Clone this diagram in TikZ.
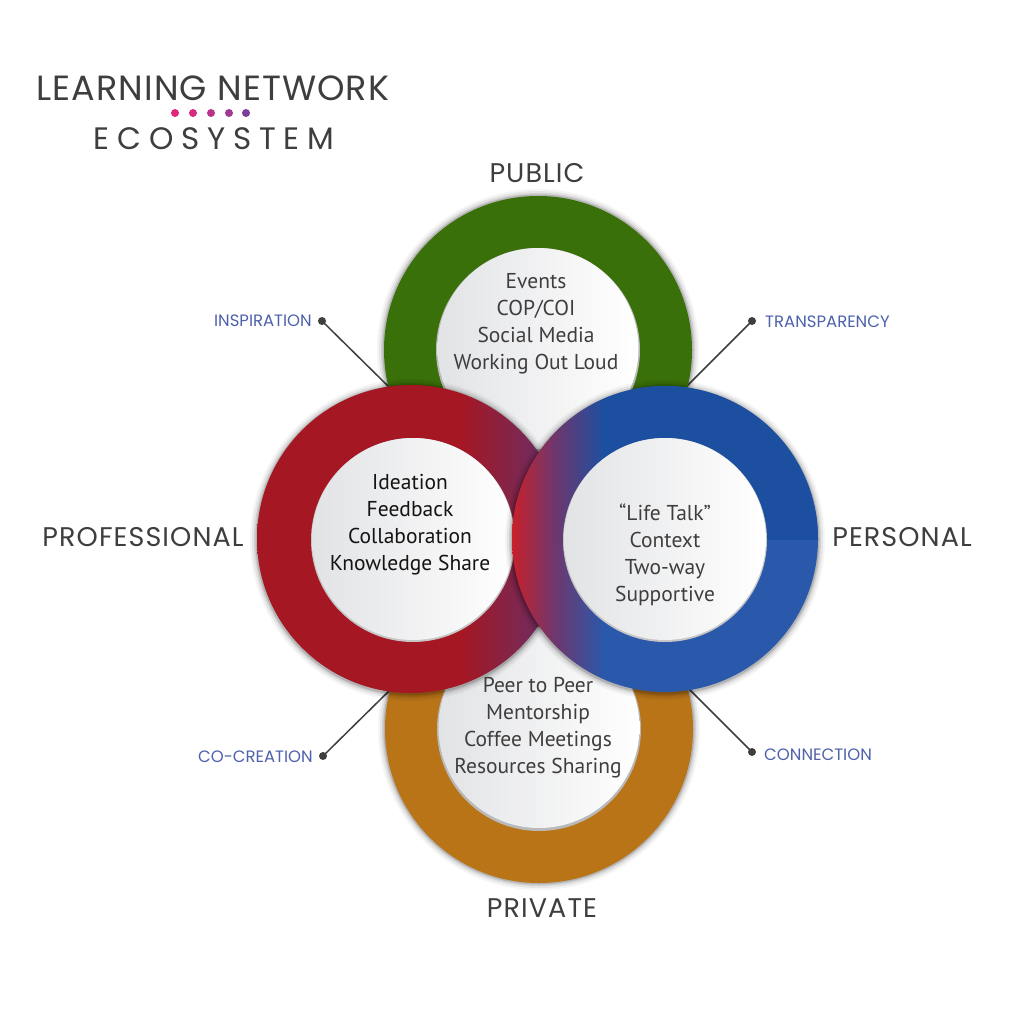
\documentclass[tikz,border=0pt]{standalone}
\usepackage{fontspec}
\setmainfont{PT Sans}
\newfontfamily\geofont{Poppins}
\usepackage{tikz}
\usetikzlibrary{calc}
\definecolor{ringgreen}{RGB}{58,112,9}
\definecolor{ringred}{RGB}{165,23,34}
\definecolor{ringredhi}{RGB}{200,32,42}
\definecolor{ringpurple}{RGB}{96,50,112}
\definecolor{ringmauve}{RGB}{110,55,110}
\definecolor{ringblue}{RGB}{28,79,160}
\definecolor{ringbluelo}{RGB}{42,88,171}
\definecolor{ringorange}{RGB}{185,116,24}
\definecolor{tagblue}{RGB}{78,98,172}
\definecolor{inkgray}{RGB}{62,62,62}
\definecolor{discgray}{RGB}{226,227,229}
\definecolor{dotA}{RGB}{224,40,122}
\definecolor{dotB}{RGB}{210,45,130}
\definecolor{dotC}{RGB}{185,52,136}
\definecolor{dotD}{RGB}{160,58,144}
\definecolor{dotE}{RGB}{123,63,152}
\pgfdeclarehorizontalshading{redring}{100bp}{color(0bp)=(ringred); color(58bp)=(ringred); color(75bp)=(ringpurple); color(100bp)=(ringpurple)}
\pgfdeclarehorizontalshading{bluetop}{100bp}{color(0bp)=(ringredhi); color(25bp)=(ringredhi); color(32bp)=(ringmauve); color(40bp)=(ringblue); color(100bp)=(ringblue)}
\pgfdeclarehorizontalshading{bluebot}{100bp}{color(0bp)=(ringredhi); color(25bp)=(ringredhi); color(32bp)=(ringmauve); color(40bp)=(ringbluelo); color(100bp)=(ringbluelo)}

\begin{document}
\begin{tikzpicture}[x=1pt,y=-1pt,line cap=round,line join=round,
    ringlabel/.style={font=\geofont\fontsize{27}{32}\selectfont\addfontfeature{LetterSpace=4},text=inkgray,inner sep=0pt},
    taglabel/.style={font=\geofont\fontsize{16.5}{18}\selectfont,text=tagblue,inner sep=0pt},
    corelist/.style={align=center,font=\fontsize{21.5}{27}\selectfont,text=inkgray,inner sep=0pt},
    halo/.style={black,opacity=#1}]
  \fill[white] (0,0) rectangle (1024,1024);
  \useasboundingbox (0,0) rectangle (1024,1024);

  % title
  \node[font=\geofont\fontsize{35}{40}\selectfont\addfontfeature{LetterSpace=3},text=inkgray,inner sep=0pt] (titleTop) at (213,88) {LEARNING NETWORK};
  \node[font=\geofont\fontsize{31}{36}\selectfont\addfontfeature{LetterSpace=25},text=inkgray,inner sep=0pt] (titleBottom) at (214,139) {ECOSYSTEM};
  \foreach \x/\c in {175/dotA,193/dotB,211/dotC,229/dotD,246/dotE}{\fill[\c] (\x,113) circle (4);}

  % connectors
  \coordinate (inspDot) at (322,321);  \coordinate (inspEnd) at (390,388);
  \coordinate (tranDot) at (752,321);  \coordinate (tranEnd) at (686,387);
  \coordinate (cocrDot) at (323,756);  \coordinate (cocrEnd) at (390,690);
  \coordinate (connDot) at (752,752);  \coordinate (connEnd) at (688,688);
  \foreach \a/\b in {inspDot/inspEnd,tranDot/tranEnd,cocrDot/cocrEnd,connDot/connEnd}{
    \draw[inkgray,line width=1.5pt] (\a) -- (\b);
    \fill[inkgray] (\a) circle (4);
  }
  \node[taglabel,anchor=east] (inspTag) at (312,321) {INSPIRATION};
  \node[taglabel,anchor=west] (tranTag) at (765,322) {TRANSPARENCY};
  \node[taglabel,anchor=east] (cocrTag) at (313,757) {CO-CREATION};
  \node[taglabel,anchor=west] (connTag) at (764,755) {CONNECTION};

  % public and private rings
  \foreach \cx/\cy/\c in {538/350/ringgreen,539/729/ringorange}{
    \foreach \d/\o in {7/0.04,5/0.06,3/0.09,1.5/0.14}{\fill[halo=\o] (\cx,\cy) circle (154+\d);}
    \fill[\c] (\cx,\cy) circle (154);
    \fill[gray!55] (\cx,\cy) circle (102);
    \shade[left color=discgray,right color=white] (\cx,\cy-1.5) circle (100.5);
  }

  % professional ring
  \foreach \d/\o in {7/0.04,5/0.06,3/0.09,1.5/0.14}{\fill[halo=\o] (411,540) circle (154+\d);}
  \shade[shading=redring] (411,539) circle (154);
  \fill[gray!45] (413,540) circle (102);
  \shade[left color=discgray,right color=white] (413,539) circle (101);

  % personal ring
  \foreach \d/\o in {7/0.04,5/0.06,3/0.09,1.5/0.14}{\fill[halo=\o] (665,540) circle (153+\d);}
  \shade[shading=bluebot] (665,539) circle (153);
  \begin{scope}
    \clip (500,370) rectangle (830,539);
    \shade[shading=bluetop] (665,539) circle (153);
  \end{scope}
  \fill[gray!45] (665,540) circle (102);
  \shade[left color=discgray,right color=white] (665,539) circle (101);

  % lists
  \node[corelist] (publicList) at (536,324) {Events\\COP/COI\\Social Media\\Working Out Loud};
  \node[corelist,text=black!92] (profList) at (410,525) {Ideation\\Feedback\\Collaboration\\Knowledge Share};
  \node[corelist] (persList) at (665,555) {“Life Talk”\\Context\\Two-way\\Supportive};
  \node[corelist] (privList) at (538,728) {Peer to Peer\\Mentorship\\Coffee Meetings\\Resources Sharing};

  % ring labels
  \node[ringlabel] (publicLbl) at (537,173) {PUBLIC};
  \node[ringlabel] (profLbl) at (143,537) {PROFESSIONAL};
  \node[ringlabel] (persLbl) at (902,537) {PERSONAL};
  \node[ringlabel] (privLbl) at (542,908) {PRIVATE};
\end{tikzpicture}
\end{document}
